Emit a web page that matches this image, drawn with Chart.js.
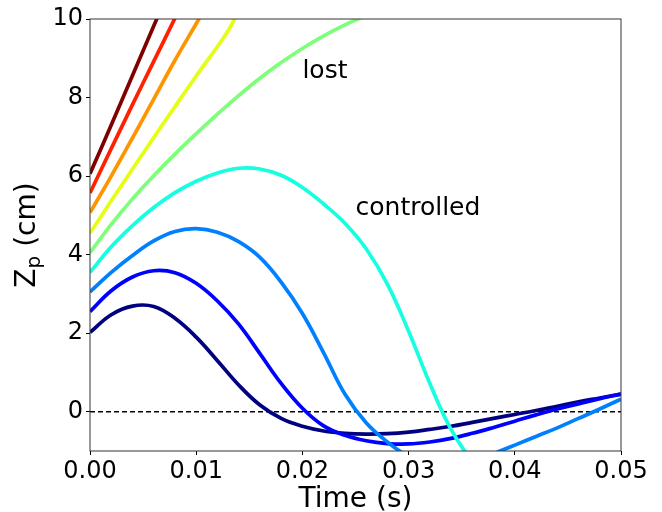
<!DOCTYPE html>
<html>
<head>
<meta charset="utf-8">
<script src="https://cdn.jsdelivr.net/npm/chart.js@4"></script>
<style>
  html, body { margin: 0; padding: 0; background: #fff; }
  #wrap { width: 662px; height: 512px; }
</style>
</head>
<body>
<div id="wrap"><canvas id="zp" width="662" height="512"></canvas></div>
<script>
// --- trajectories: time (s) and Zp (cm), one pair per starting height ---
const tFull = [0, 0.002, 0.004, 0.006, 0.008, 0.010, 0.012, 0.014, 0.016, 0.018, 0.020, 0.022, 0.024,
               0.026, 0.028, 0.030, 0.032, 0.034, 0.036, 0.038, 0.040, 0.042, 0.044, 0.046, 0.048, 0.050];

const zZ20 = [2.02, 2.47, 2.69, 2.68, 2.38, 1.9, 1.3, 0.68, 0.17, -0.17, -0.37, -0.49, -0.55,
              -0.57, -0.56, -0.52, -0.45, -0.37, -0.27, -0.17, -0.07, 0.03, 0.14, 0.25, 0.35, 0.45];
const zZ25 = [2.55, 3.08, 3.43, 3.59, 3.54, 3.27, 2.82, 2.23, 1.48, 0.72, 0.09, -0.36, -0.6,
              -0.74, -0.81, -0.82, -0.77, -0.68, -0.55, -0.4, -0.24, -0.08, 0.07, 0.2, 0.33, 0.45];
const zZ30 = [3.05, 3.55, 3.98, 4.35, 4.59, 4.66, 4.57, 4.33, 3.93, 3.3, 2.5, 1.5, 0.45,
              -0.28, -0.77, -1.15, -1.42, -1.55, -1.35, -1.07, -0.85, -0.63, -0.41, -0.17, 0.07, 0.32];

const tZ35 = [0, 0.002, 0.004, 0.006, 0.008, 0.010, 0.012, 0.014, 0.016, 0.018, 0.020, 0.022, 0.024,
              0.026, 0.028, 0.030, 0.032, 0.034, 0.036, 0.038];
const zZ35 = [3.55, 4.2, 4.74, 5.2, 5.58, 5.87, 6.08, 6.2, 6.18, 6.02, 5.71, 5.29, 4.8,
              4.15, 3.25, 2.05, 0.72, -0.45, -1.25, -1.7];

const tZ40 = [0, 0.002, 0.004, 0.006, 0.008, 0.010, 0.012, 0.014, 0.016, 0.018, 0.020, 0.022, 0.024, 0.026];
const zZ40 = [4.05, 4.77, 5.42, 6.01, 6.56, 7.08, 7.58, 8.05, 8.49, 8.89, 9.25, 9.57, 9.85, 10.09];

const tZ45 = [0, 0.002, 0.004, 0.006, 0.008, 0.010, 0.012, 0.013, 0.014];
const zZ45 = [4.55, 5.37, 6.18, 6.98, 7.77, 8.55, 9.3, 9.7, 10.2];

const tZ50 = [0, 0.002, 0.004, 0.006, 0.008, 0.010, 0.011];
const zZ50 = [5.07, 6.0, 6.97, 7.96, 8.95, 9.88, 10.35];

const tZ55 = [0, 0.002, 0.004, 0.006, 0.008];
const zZ55 = [5.57, 6.7, 7.82, 8.92, 10.02];

const tZ60 = [0, 0.002, 0.004, 0.006, 0.007];
const zZ60 = [6.06, 7.3, 8.56, 9.82, 10.45];

const xTicks = [0, 0.01, 0.02, 0.03, 0.04, 0.05];
const yTicks = [0, 2, 4, 6, 8, 10];

const notes = ["lost", "controlled"];
const noteX = [0.02, 0.025];
const noteY = [8.5, 5.0];

// jet colours, low start -> high start
const runs = [
    [tFull, zZ20, "#000080"],
    [tFull, zZ25, "#0000ff"],
    [tFull, zZ30, "#0080ff"],
    [tZ35, zZ35, "#16ffe1"],
    [tZ40, zZ40, "#7dff7a"],
    [tZ45, zZ45, "#e4ff13"],
    [tZ50, zZ50, "#ff9400"],
    [tZ55, zZ55, "#ff2200"],
    [tZ60, zZ60, "#800000"]
];

const FONT = "'DejaVu Sans', 'Liberation Sans', sans-serif";

const datasets = runs.map(([t, z, col], i) => ({
    data: t.map((v, k) => ({ x: v, y: z[k] })),
    borderColor: col,
    borderWidth: 3.7,
    pointRadius: 0,
    tension: 0.4,
    order: runs.length - i
}));

// zero line, under everything
datasets.push({
    data: [{ x: 0, y: 0 }, { x: 0.05, y: 0 }],
    borderColor: "#000",
    borderWidth: 1.3,
    borderDash: [5, 3],
    pointRadius: 0,
    order: 100
});

const extras = {
    id: "extras",
    afterDraw(chart) {
        const { ctx, chartArea: a, scales: { x, y } } = chart;
        ctx.save();
        ctx.strokeStyle = "#333";
        ctx.lineWidth = 1;
        ctx.strokeRect(a.left, a.top, a.right - a.left, a.bottom - a.top);

        ctx.fillStyle = "#000";
        ctx.textBaseline = "alphabetic";
        ctx.textAlign = "left";
        ctx.font = "25px " + FONT;
        notes.forEach((s, i) => ctx.fillText(s, x.getPixelForValue(noteX[i]), y.getPixelForValue(noteY[i])));

        ctx.font = "28px " + FONT;
        ctx.textAlign = "center";
        ctx.fillText("Time (s)", (a.left + a.right) / 2, 507);

        // Z with subscript p, rotated
        ctx.translate(35, (a.top + a.bottom) / 2);
        ctx.rotate(-Math.PI / 2);
        ctx.textAlign = "left";
        const big = "28px " + FONT, small = "20px " + FONT;
        ctx.font = big;
        const wZ = ctx.measureText("Z").width;
        const wR = ctx.measureText(" (cm)").width;
        ctx.font = small;
        const wp = ctx.measureText("p").width;
        const x0 = -(wZ + wp + wR) / 2;
        ctx.font = big;
        ctx.fillText("Z", x0, 0);
        ctx.font = small;
        ctx.fillText("p", x0 + wZ, 5);
        ctx.font = big;
        ctx.fillText(" (cm)", x0 + wZ + wp, 0);
        ctx.restore();
    }
};

new Chart(document.getElementById("zp"), {
    type: "line",
    data: { datasets },
    options: {
        responsive: false,
        animation: false,
        layout: { padding: { top: 19, right: 41, bottom: 0, left: 0 } },
        plugins: { legend: { display: false }, tooltip: { enabled: false } },
        scales: {
            x: {
                type: "linear",
                min: 0,
                max: 0.05,
                afterBuildTicks: s => { s.ticks = xTicks.map(v => ({ value: v })); },
                afterFit: s => { s.height = 61; },
                ticks: {
                    callback: v => v.toFixed(2),
                    font: { size: 24, family: FONT },
                    color: "#000",
                    padding: 2,
                    maxRotation: 0,
                    autoSkip: false
                },
                grid: { drawOnChartArea: false, tickLength: 4, color: "#000" },
                border: { display: false }
            },
            y: {
                min: -1,
                max: 10,
                afterBuildTicks: s => { s.ticks = yTicks.map(v => ({ value: v })); },
                afterFit: s => { s.width = 90; },
                ticks: {
                    callback: v => String(v),
                    font: { size: 24, family: FONT },
                    color: "#000",
                    padding: 3,
                    autoSkip: false
                },
                grid: { drawOnChartArea: false, tickLength: 4, color: "#000" },
                border: { display: false }
            }
        }
    },
    plugins: [extras]
});
</script>
</body>
</html>
